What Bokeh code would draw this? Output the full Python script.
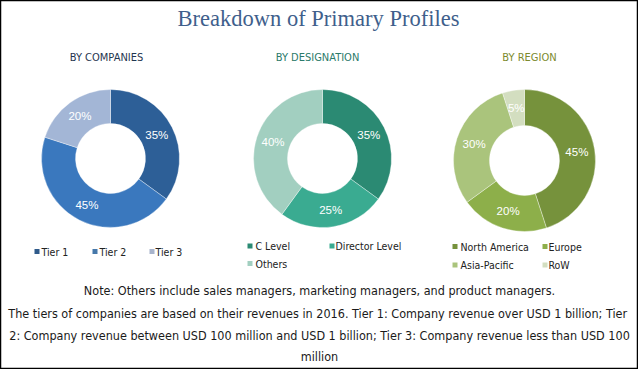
import math
from bokeh.plotting import figure
from bokeh.models import Range1d, ColumnDataSource
from bokeh.core.properties import value
from bokeh.embed import file_html
from bokeh.resources import INLINE

# ---------------- data ----------------
title_text = "Breakdown of Primary Profiles"

comp_title = "BY COMPANIES"
comp_labels = ["Tier 1", "Tier 2", "Tier 3"]
comp_values = [35, 45, 20]
comp_colors = ["#2D5F97", "#3A78BE", "#A3B6D6"]
comp_legend_colors = ["#2F5A8A", "#4678AA", "#A8B4CC"]

desig_title = "BY DESIGNATION"
desig_labels = ["C Level", "Director Level", "Others"]
desig_values = [35, 25, 40]
desig_colors = ["#2B8A73", "#3AAB91", "#A2CFC0"]

region_title = "BY REGION"
region_labels = ["North America", "Europe", "Asia-Pacific", "RoW"]
region_values = [45, 20, 30, 5]
region_colors = ["#76923C", "#8DAF4A", "#AAC47C", "#D3DEC0"]

note_lines = [
    "Note: Others include sales managers, marketing managers, and product managers.",
    "The tiers of companies are based on their revenues in 2016.  Tier 1: Company revenue over USD 1 billion; Tier",
    "2: Company revenue between USD 100 million and USD 1 billion; Tier 3: Company revenue less than USD 100",
    "million",
]

# ---------------- layout ----------------
W, H = 638, 369
p = figure(width=W, height=H, output_backend="svg", toolbar_location=None,
           x_range=Range1d(0, W), y_range=Range1d(0, H), min_border=0)
p.xaxis.visible = False
p.yaxis.visible = False
p.grid.visible = False
p.outline_line_color = "black"
p.outline_line_width = 1.5
p.background_fill_color = "white"
p.border_fill_color = "white"


def Y(y):
    return H - y


COND = value("DejaVu Sans Condensed")
SANS = value("Liberation Sans")

# title
p.text(x=[318], y=[Y(18)], text=[title_text], text_font=value("Liberation Serif"),
       text_font_size="22.5px", text_color="#3F5F8C", text_align="center", text_baseline="middle")


def donut(cx, cy, r_out, r_in, vals, colors, label_r):
    total = float(sum(vals))
    cum = 0.0
    starts, ends, lx, ly, txt = [], [], [], [], []
    for v in vals:
        a = cum / total
        b = (cum + v) / total
        starts.append(math.pi / 2 - 2 * math.pi * b)
        ends.append(math.pi / 2 - 2 * math.pi * a)
        mid = (a + b) / 2 * 2 * math.pi
        lx.append(cx + label_r * math.sin(mid))
        ly.append(Y(cy) + label_r * math.cos(mid))
        txt.append(f"{v}%")
        cum += v
    src = ColumnDataSource(dict(s=starts, e=ends, c=colors))
    p.annular_wedge(x=cx, y=Y(cy), inner_radius=r_in, outer_radius=r_out,
                    start_angle="s", end_angle="e", fill_color="c",
                    line_color="white", line_width=0.6, line_alpha=0.6, source=src)
    p.text(x=lx, y=ly, text=txt, text_font=SANS, text_font_size="11.5px",
           text_color="white", text_align="center", text_baseline="middle")


donut(110, 158, 69, 35, comp_values, comp_colors, 52)
donut(322, 158, 69, 35, desig_values, desig_colors, 52)
donut(524, 160, 71, 35, region_values, region_colors, 53)

# section titles
p.text(x=[106, 317, 529], y=[Y(57)] * 3, text=[comp_title, desig_title, region_title],
       text_font=COND, text_font_size="11px",
       text_color=["#1F3650", "#2B7A6A", "#7C8A2E"],
       text_align="center", text_baseline="middle")


def legend(items, colors, sq_x, txt_x, ys):
    p.rect(x=[sx + 2.5 for sx in sq_x], y=[Y(y) for y in ys], width=5, height=5,
           fill_color=colors, line_color=None)
    p.text(x=txt_x, y=[Y(y) for y in ys], text=items, text_font=COND,
           text_font_size="10.5px", text_color="#222222", text_align="left",
           text_baseline="middle")


legend(comp_labels, comp_legend_colors, [34, 92, 149], [41, 99, 155], [251, 251, 251])
legend(desig_labels, desig_colors, [247, 329, 247], [255, 335, 255], [245.5, 245.5, 263])
legend(region_labels, region_colors, [452, 542, 452, 542], [460, 548, 460, 548],
       [246, 246, 264.5, 264.5])

# notes
p.text(x=[319] * 4, y=[Y(290), Y(313), Y(335), Y(356)], text=note_lines,
       text_font=COND, text_font_size="12.5px", text_color="#1A1A1A",
       text_align="center", text_baseline="middle")

open("out.html", "w").write(file_html(p, INLINE))
